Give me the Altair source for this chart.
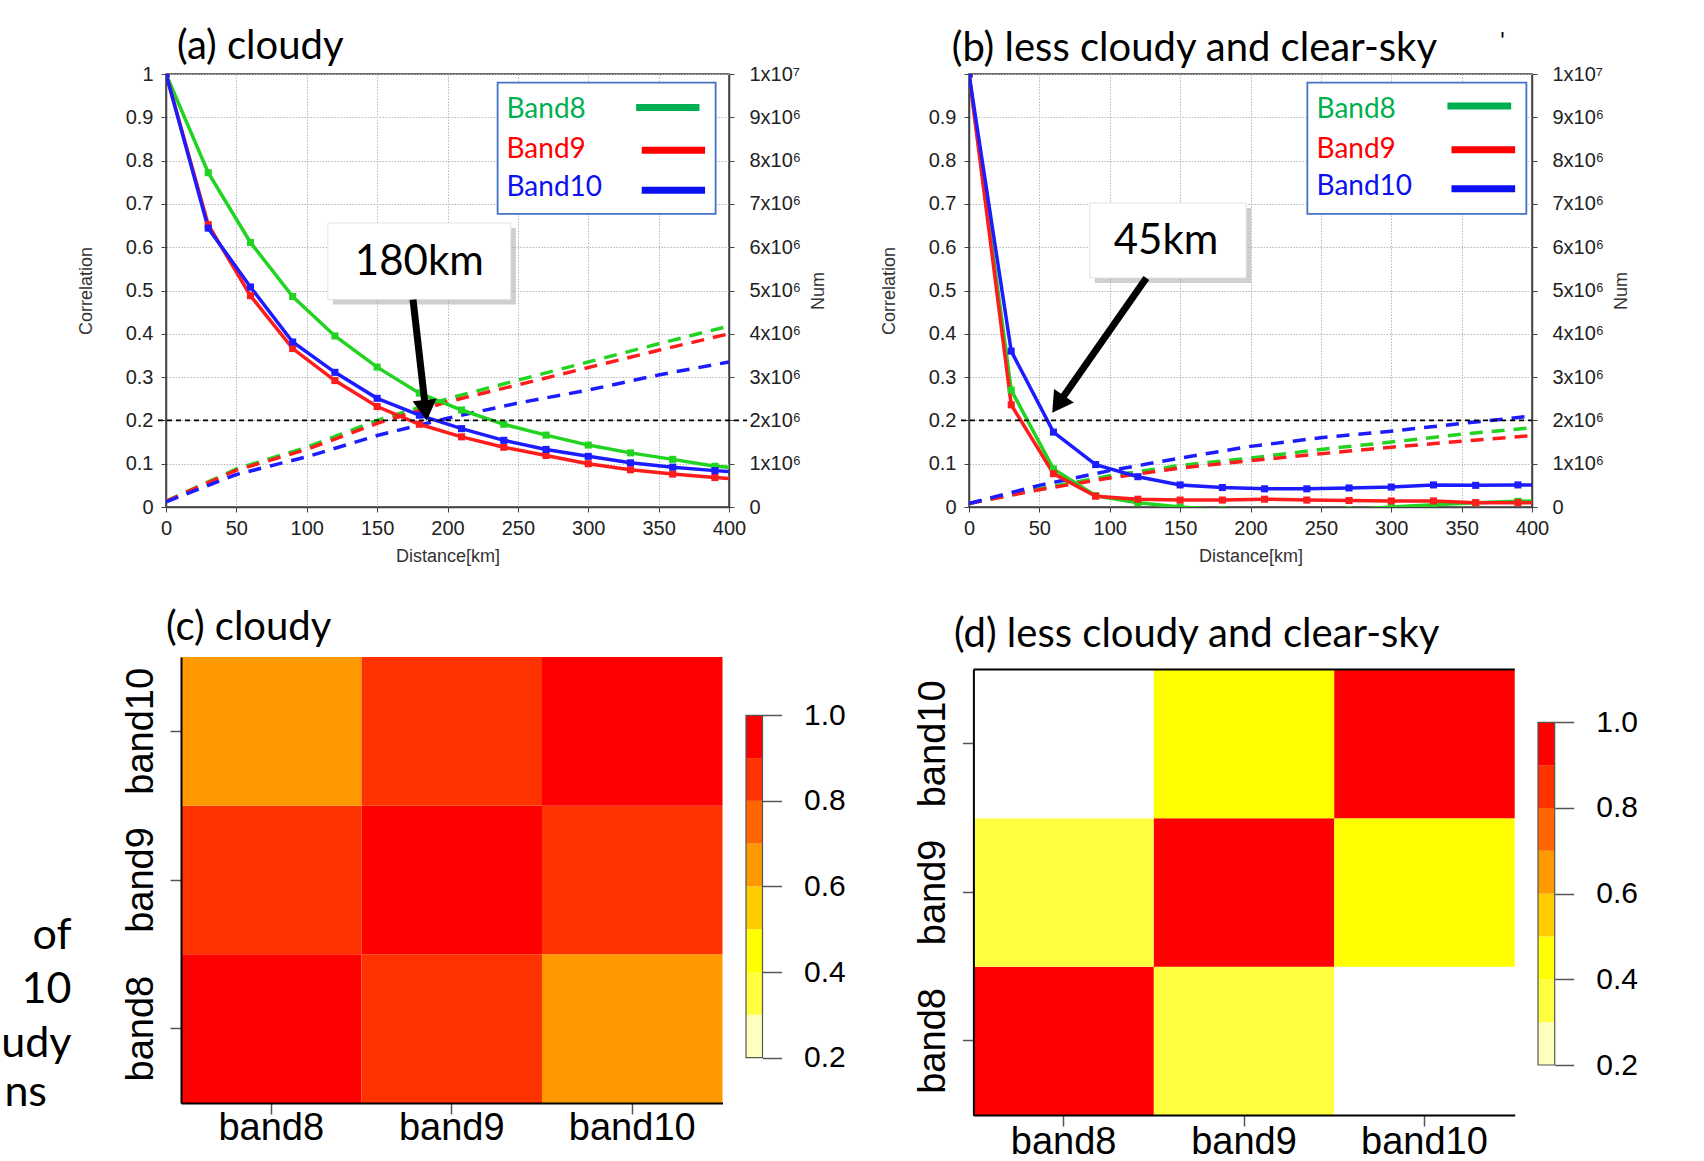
import altair as alt
import pandas as pd

# ---------------- data ----------------
dist_km = [0, 30, 60, 90, 120, 150, 180, 210, 240, 270, 300, 330, 360, 390, 400]
band_names = ["Band8", "Band9", "Band10"]

a_corr_band8 = [1.000, 0.772, 0.611, 0.486, 0.395, 0.323, 0.263, 0.224, 0.191, 0.166, 0.143, 0.125, 0.110, 0.094, 0.092]
a_corr_band9 = [1.000, 0.652, 0.488, 0.366, 0.292, 0.232, 0.191, 0.162, 0.138, 0.119, 0.100, 0.086, 0.076, 0.068, 0.066]
a_corr_band10 = [1.000, 0.644, 0.508, 0.381, 0.311, 0.251, 0.212, 0.181, 0.154, 0.133, 0.117, 0.102, 0.092, 0.084, 0.082]

b_corr_band8 = [1.000, 0.270, 0.088, 0.026, 0.010, 0.000, -0.006, -0.010, -0.010, -0.006, 0.000, 0.005, 0.010, 0.013, 0.014]
b_corr_band9 = [1.000, 0.236, 0.077, 0.025, 0.018, 0.016, 0.016, 0.018, 0.016, 0.015, 0.014, 0.014, 0.010, 0.010, 0.010]
b_corr_band10 = [1.000, 0.360, 0.173, 0.098, 0.070, 0.051, 0.045, 0.042, 0.042, 0.044, 0.046, 0.051, 0.050, 0.051, 0.051]

num_dist_km = [0, 50, 100, 150, 200, 250, 300, 350, 400]
a_num_band8 = [130000, 880000, 1380000, 2000000, 2500000, 2930000, 3350000, 3770000, 4180000]
a_num_band9 = [130000, 850000, 1330000, 1930000, 2430000, 2820000, 3220000, 3620000, 4000000]
a_num_band10 = [120000, 750000, 1160000, 1650000, 2050000, 2400000, 2700000, 3050000, 3350000]
b_num_band8 = [80000, 420000, 720000, 960000, 1130000, 1330000, 1500000, 1680000, 1830000]
b_num_band9 = [80000, 400000, 670000, 900000, 1070000, 1230000, 1380000, 1520000, 1650000]
b_num_band10 = [80000, 500000, 840000, 1130000, 1400000, 1600000, 1750000, 1930000, 2100000]

corr_threshold = 0.2
marker_max_km = 390

heat_bands = ["band8", "band9", "band10"]
c_matrix = [[1.0, 0.85, 0.65], [0.85, 1.0, 0.85], [0.65, 0.85, 1.0]]
d_matrix = [[1.0, 0.35, 0.15], [0.35, 1.0, 0.45], [0.15, 0.45, 1.0]]
colorbar_breaks = [0.2, 0.3, 0.4, 0.5, 0.6, 0.7, 0.8, 0.9, 1.0]
heat_colors = ["#FFFFBF", "#FFFF40", "#FFFF00", "#FFCC00", "#FF9900", "#FF6600", "#FF3300", "#FF0000"]
colorbar_ticks = [0.2, 0.4, 0.6, 0.8, 1.0]

# ---------------- style ----------------
FONT_AX = "Liberation Sans"
FONT_SLIDE = "Lato"
line_colors = ["#22D322", "#FF1C1C", "#1C1CFF"]
legend_colors = ["#00B050", "#FF0000", "#0A10F0"]

W_LINE, H_LINE = 563, 433
KM_PER_PX = 400 / W_LINE

XS = alt.Scale(domain=[0, 400], nice=False, zero=False)
YS = alt.Scale(domain=[0, 1], nice=False, zero=False)
NS = alt.Scale(domain=[0, 10000000], nice=False, zero=False)
COLOR = alt.Color("band:N", scale=alt.Scale(domain=band_names, range=line_colors), legend=None)


def one(**kw):
    return pd.DataFrame({k: [v] for k, v in kw.items()})


def long_df(xs, series, yname):
    rows = []
    for name, vals in zip(band_names, series):
        for x, v in zip(xs, vals):
            rows.append({"dist": x, yname: v, "band": name})
    return pd.DataFrame(rows)


def text_at(t, x, y, size, align="left", font=FONT_SLIDE, color="black"):
    return alt.Chart(one(t=t)).mark_text(
        font=font, fontSize=size, align=align, baseline="middle", color=color
    ).encode(x=alt.value(x), y=alt.value(y), text="t:N")


AX = dict(labelFont=FONT_AX, labelFontSize=20, labelColor="#222222", titleFont=FONT_AX,
          titleFontSize=18, titleFontWeight="normal", titleColor="#333333",
          tickColor="#444444", tickSize=5, domainColor="#444444", domainWidth=1.5,
          labelFlush=False, labelOverlap=False)


def line_panel(corr_series, num_series, spec):
    corr_df = long_df(dist_km, corr_series, "corr")
    mark_df = corr_df[corr_df["dist"] <= marker_max_km]
    num_df = long_df(num_dist_km, num_series, "num")

    x_axis = alt.Axis(values=list(range(0, 401, 50)), title="Distance[km]", labelPadding=6,
                      titlePadding=9, grid=True, gridColor="#B8B8B8", gridDash=[1.5, 1.5], **AX)
    y_axis = alt.Axis(values=[i / 10 for i in range(11)], labelExpr=spec["ylab"], title="Correlation",
                      labelPadding=8, titlePadding=30, grid=True, gridColor="#B8B8B8",
                      gridDash=[1.5, 1.5], **AX)
    n_axis = alt.Axis(orient="right", values=[i * 1000000 for i in range(11)],
                      labelExpr="datum.value == 0 ? '0' : (datum.value > 9999999 ? '1x10⁷' : format(round(datum.value / 1000000), 'd') + 'x10⁶')",
                      title="Num", titleAngle=270, titleBaseline="top", titlePadding=9,
                      labelPadding=15, grid=False, **AX)

    def X(field):
        return alt.X(field, type="quantitative", scale=XS, axis=x_axis)

    def Y(field):
        return alt.Y(field, type="quantitative", scale=YS, axis=y_axis)

    num_lines = alt.Chart(num_df).mark_line(strokeWidth=3.5, strokeDash=[13, 9]).encode(
        x=X("dist"), y=alt.Y("num:Q", scale=NS, axis=n_axis), color=COLOR)

    lines = alt.Chart(corr_df).mark_line(strokeWidth=3.5, clip=True).encode(
        x=X("dist"), y=Y("corr"), color=COLOR)
    pts = alt.Chart(mark_df).mark_point(shape="square", filled=True, size=50, opacity=1, clip=True).encode(
        x=X("dist"), y=Y("corr"), color=COLOR)

    rule = alt.Chart(one(x1=-8 * KM_PER_PX, x2=400 + spec["rule_ext"] * KM_PER_PX, y=corr_threshold)).mark_rule(
        color="black", strokeWidth=1.6, strokeDash=[5, 4]).encode(x=X("x1"), x2="x2:Q", y=Y("y"))

    lb = spec["leg_box"]
    leg_box = alt.Chart(one(x1=lb[0], x2=lb[1], y1=lb[2], y2=lb[3])).mark_rect(
        fill="white", stroke="#4472C4", strokeWidth=1.8).encode(x=X("x1"), x2="x2:Q", y=Y("y1"), y2="y2:Q")
    leg = [leg_box]
    for name, col, ty, sw in zip(band_names, legend_colors, spec["leg_ty"], spec["leg_sw"]):
        leg.append(alt.Chart(one(x=spec["leg_tx"], y=ty, t=name)).mark_text(
            font=FONT_SLIDE, fontSize=28, align="left", baseline="middle", color=col).encode(
            x=X("x"), y=Y("y"), text="t:N"))
        leg.append(alt.Chart(one(x1=sw[0], x2=sw[1], y=sw[2])).mark_rule(
            color=col, strokeWidth=7).encode(x=X("x1"), x2="x2:Q", y=Y("y")))

    bx = spec["box"]
    shadow = alt.Chart(one(x1=bx[0], x2=bx[1], y1=bx[2], y2=bx[3])).mark_rect(
        color="#A0A0A0", opacity=0.5, xOffset=5, x2Offset=5, yOffset=5, y2Offset=5).encode(
        x=X("x1"), x2="x2:Q", y=Y("y1"), y2="y2:Q")
    box = alt.Chart(one(x1=bx[0], x2=bx[1], y1=bx[2], y2=bx[3])).mark_rect(
        fill="white", stroke="#E2E2E2", strokeWidth=1).encode(x=X("x1"), x2="x2:Q", y=Y("y1"), y2="y2:Q")
    note = alt.Chart(one(x=spec["note_xy"][0], y=spec["note_xy"][1], t=spec["note"])).mark_text(
        font=FONT_SLIDE, fontSize=42, align="center", baseline="middle", color="black").encode(
        x=X("x"), y=Y("y"), text="t:N")
    ar = spec["arrow"]
    shaft = alt.Chart(one(x1=ar[0], y1=ar[1], x2=ar[2], y2=ar[3])).mark_rule(
        color="black", strokeWidth=7).encode(x=X("x1"), y=Y("y1"), x2="x2:Q", y2="y2:Q")
    head = alt.Chart(one(x=ar[4], y=ar[5])).mark_point(
        shape="triangle", size=576, filled=True, opacity=1, color="black", angle=spec["angle"],
        xOffset=spec["head_off"][0], yOffset=spec["head_off"][1]).encode(x=X("x"), y=Y("y"))

    corr_layer = alt.layer(lines, pts, rule, *leg, shadow, box, note, shaft, head)
    extras = [text_at(t, x, y, s) for (t, x, y, s) in spec["texts"]]
    extras += spec.get("more", [])
    return alt.layer(num_lines, corr_layer, *extras).resolve_scale(y="independent").properties(
        width=W_LINE, height=H_LINE, view=alt.ViewBackground(stroke="#3a3a3a", strokeWidth=1.5))


def heat_panel(matrix, spec):
    W, H = spec["w"], spec["h"]
    xr, yr = spec["xr"], spec["yr"]
    df = pd.DataFrame([{"xb": heat_bands[j], "yb": heat_bands[i], "v": matrix[i][j]}
                       for i in range(3) for j in range(3)])
    color = alt.Color("v:Q", scale=alt.Scale(type="threshold", domain=colorbar_breaks[:-1],
                                             range=["#FFFFFF"] + heat_colors), legend=None)
    hx_axis = alt.Axis(title=None, labelFont=FONT_AX, labelFontSize=38, labelColor="black", labelAngle=0,
                       labelBaseline="middle", labelPadding=spec["xlab_pad"], tickSize=11,
                       tickColor="#555555", tickWidth=1.5, domainColor="black", domainWidth=2, zindex=1)
    hy_axis = alt.Axis(title=None, offset=-xr[0], labelFont=FONT_AX, labelFontSize=38, labelColor="black",
                       labelAngle=270, labelAlign="center", labelBaseline="bottom", labelPadding=10,
                       tickSize=11, tickColor="#555555", tickWidth=1.5, domainColor="black",
                       domainWidth=2, zindex=1)
    cells = alt.Chart(df).mark_rect().encode(
        x=alt.X("xb:N", scale=alt.Scale(domain=heat_bands, range=xr, paddingInner=0, paddingOuter=0), axis=hx_axis),
        y=alt.Y("yb:N", scale=alt.Scale(domain=heat_bands[::-1], range=yr, paddingInner=0, paddingOuter=0), axis=hy_axis),
        color=color)

    cb_df = pd.DataFrame({"lo": colorbar_breaks[:-1], "hi": colorbar_breaks[1:]})
    cb_scale = alt.Scale(domain=[0.2, 1.0], range=[spec["cb_bottom"], spec["cb_top"]], nice=False, zero=False)
    cb_axis = alt.Axis(orient="right", offset=spec["cb_x2"] - W, values=colorbar_ticks, format=".1f", title=None,
                       labelFont=FONT_AX, labelFontSize=30, labelColor="black", labelPadding=22,
                       tickSize=19, tickColor="#555555", tickWidth=1.5, domain=False, grid=False,
                       labelFlush=False, labelOverlap=False)
    cb = alt.Chart(cb_df).transform_calculate(v="(datum.lo + datum.hi) / 2").mark_rect().encode(
        x=alt.value(spec["cb_x1"]), x2=alt.value(spec["cb_x2"]),
        y=alt.Y("lo:Q", scale=cb_scale, axis=cb_axis), y2="hi:Q", color=color)
    cb_frame = alt.Chart(one(lo=0.2, hi=1.0)).mark_rect(fillOpacity=0, stroke="#555555", strokeWidth=1.2).encode(
        x=alt.value(spec["cb_x1"]), x2=alt.value(spec["cb_x2"]),
        y=alt.Y("lo:Q", scale=cb_scale, axis=cb_axis), y2="hi:Q")

    extras = [text_at(t, x, y, s, align=a) for (t, x, y, s, a) in spec["texts"]]
    extras += spec.get("more", [])
    return alt.layer(cells, alt.layer(cb, cb_frame), *extras).resolve_scale(y="independent").properties(
        width=W, height=H)


anchor = alt.Chart(one(k=0)).mark_rule(color="white", strokeWidth=1).encode(
    x=alt.value(-163), x2=alt.value(-161), y=alt.value(-72.7), y2=alt.value(-72.7))

panel_a = line_panel(
    [a_corr_band8, a_corr_band9, a_corr_band10], [a_num_band8, a_num_band9, a_num_band10],
    dict(ylab="format(datum.value, '.1~f')", rule_ext=18,
         leg_box=(235.6, 390.5, 0.677, 0.98), leg_tx=241.9, leg_ty=[0.918, 0.825, 0.737],
         leg_sw=[(334, 379, 0.9226), (338, 383, 0.8237), (338, 383, 0.7315)],
         box=(115, 245, 0.479, 0.656), note="180km", note_xy=(180, 0.565),
         arrow=(175.5, 0.479, 184.2, 0.232, 185, 0.2076), angle=173.8, head_off=(-1.1, -10.3),
         texts=[("(a) cloudy", 11, -27, 40)], more=[anchor]))

panel_b = line_panel(
    [b_corr_band8, b_corr_band9, b_corr_band10], [b_num_band8, b_num_band9, b_num_band10],
    dict(ylab="datum.value > 0.99 ? '' : format(datum.value, '.1~f')", rule_ext=0,
         leg_box=(240.4, 396, 0.677, 0.98), leg_tx=246.9, leg_ty=[0.916, 0.825, 0.739],
         leg_sw=[(339.9, 385.2, 0.926), (342.8, 388, 0.825), (342.8, 388, 0.735)],
         box=(85.8, 196.9, 0.529, 0.702), note="45km", note_xy=(140, 0.614),
         arrow=(126, 0.529, 64.5, 0.243, 60.5, 0.224), angle=214.3, head_off=(5.9, -8.6),
         texts=[("(b) less cloudy and clear-sky", -17.3, -25, 40), ("'", 531, -32, 24)]))

panel_c = heat_panel(c_matrix, dict(
    w=557, h=446, xr=[15, 556.5], yr=[0, 446], cb_x1=580, cb_x2=596.5, cb_top=58.3, cb_bottom=400.6,
    xlab_pad=14,
    texts=[("(c) cloudy", 0, -28.7, 40, "left"), ("of", -94.5, 279, 43, "right"), ("10", -94.5, 333, 43, "right"),
           ("udy", -94.5, 387, 43, "right"), ("ns", -119, 436, 43, "right")]))

d_top = alt.Chart(one(k=0)).mark_rule(color="black", strokeWidth=2).encode(
    x=alt.value(4.4), x2=alt.value(545.7), y=alt.value(12.6), y2=alt.value(12.6))

panel_d = heat_panel(d_matrix, dict(
    w=546, h=458, xr=[4.4, 545.7], yr=[12.6, 458.2], cb_x1=569, cb_x2=585.7, cb_top=65.3, cb_bottom=408,
    xlab_pad=16,
    texts=[("(d) less cloudy and clear-sky", -15, -22.2, 40, "left")], more=[d_top]))

chart = alt.concat(
    panel_a, panel_b, panel_c, panel_d, columns=2,
    spacing=alt.RowColnumber(row=150, column=240), bounds="flush", align="each",
).properties(padding=0, background="white").configure_view(stroke="transparent")

chart.save("out.html", embed_options={"renderer": "svg", "actions": False})
